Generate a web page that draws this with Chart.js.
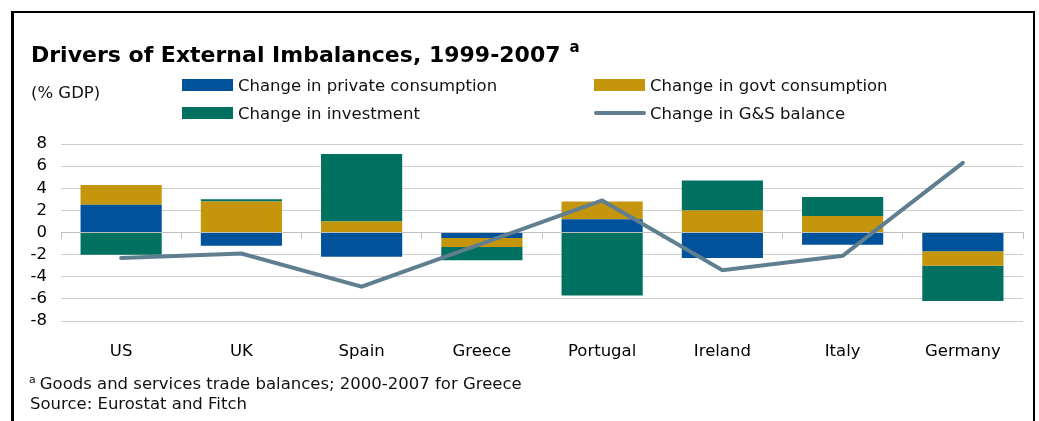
<!DOCTYPE html>
<html>
<head>
<meta charset="utf-8">
<title>Drivers of External Imbalances, 1999-2007</title>
<script src="https://cdn.jsdelivr.net/npm/chart.js@4/dist/chart.umd.min.js"></script>
<style>
  html, body { margin: 0; padding: 0; background: #fff; }
  body { width: 1039px; height: 421px; position: relative; overflow: hidden;
         font-family: "DejaVu Sans", sans-serif; color: #111; }
  #frame { position: absolute; left: 11px; top: 11px; width: 1024px; height: 460px;
           box-sizing: border-box; border-style: solid; border-color: #000;
           border-width: 2px 2px 0 3px; }
  #chart { position: absolute; left: 0; top: 0; }
  .txt { position: absolute; white-space: nowrap; font-size: 16.5px; line-height: 20px; }
  #title { left: 31px; top: 34px; font-size: 22px; line-height: 26px; font-weight: bold; color: #000; }
  #title .sup { font-size: 15px; vertical-align: 10px; margin-left: 9px; }
  #unit { left: 31px; top: 83px; }
  #note { left: 29px; top: 370px; }
  #note .sup { font-size: 11px; vertical-align: 6px; margin-right: 4px; }
  #source { left: 30px; top: 394px; }
  .swatch { position: absolute; }
</style>
</head>
<body>
<div id="frame"></div>
<canvas id="chart" width="1039" height="421"></canvas>
<div id="title" class="txt">Drivers of External Imbalances, 1999-2007<span class="sup">a</span></div>
<div id="unit" class="txt">(% GDP)</div>
<div id="legend"></div>
<div id="note" class="txt"><span class="sup">a</span>Goods and services trade balances; 2000-2007 for Greece</div>
<div id="source" class="txt">Source: Eurostat and Fitch</div>
<script>
// Countries along the x axis
const countries = ["US", "UK", "Spain", "Greece", "Portugal", "Ireland", "Italy", "Germany"];

// Changes in % of GDP, 1999-2007 (2000-2007 for Greece)
const privateConsumption = [2.5, -1.2, -2.2, -0.5, 1.2, -2.3, -1.1, -1.7];
const govtConsumption    = [1.8,  2.8,  1.0, -0.8, 1.6,  2.0,  1.5, -1.3];
const investment         = [-2.0, 0.2,  6.1, -1.2, -5.7, 2.7,  1.7, -3.2];
const gsBalance          = [-2.3, -1.9, -4.9, -1.0, 2.9, -3.4, -2.1, 6.3];

// Value axis
const yMin = -8, yMax = 8, yStep = 2;

const seriesNames = [
  "Change in private consumption",
  "Change in govt consumption",
  "Change in investment",
  "Change in G&S balance"
];

const colBlue = "#00529b";
const colGold = "#c5950c";
const colGreen = "#007060";
const colLine = "#5f7f90";
const gridCol = "#cdcdcd";
const textFont = { family: "DejaVu Sans", size: 16.5 };

const ctx = document.getElementById("chart").getContext("2d");

const chart = new Chart(ctx, {
  data: {
    labels: countries,
    datasets: [
      {
        type: "line", label: seriesNames[3], data: gsBalance, order: 0,
        borderColor: colLine, borderWidth: 4, pointRadius: 0, tension: 0,
        borderCapStyle: "round", borderJoinStyle: "miter", fill: false,
        xAxisID: "x", yAxisID: "y"
      },
      { type: "bar", label: seriesNames[0], data: privateConsumption, backgroundColor: colBlue, order: 1, xAxisID: "x", yAxisID: "y" },
      { type: "bar", label: seriesNames[1], data: govtConsumption, backgroundColor: colGold, order: 1, xAxisID: "x", yAxisID: "y" },
      { type: "bar", label: seriesNames[2], data: investment, backgroundColor: colGreen, order: 1, xAxisID: "x", yAxisID: "y" }
    ]
  },
  options: {
    responsive: false,
    animation: false,
    devicePixelRatio: 1,
    datasets: { bar: { categoryPercentage: 1, barPercentage: 0.675, borderWidth: 0 } },
    layout: { padding: { top: 144, right: 16, bottom: 60, left: 0 } },
    plugins: { legend: { display: false }, title: { display: false }, tooltip: { enabled: false } },
    scales: {
      y: {
        position: "left",
        min: yMin, max: yMax, stacked: true,
        ticks: { stepSize: yStep, padding: 14, color: "#000", font: textFont, autoSkip: false },
        grid: { color: gridCol, lineWidth: 1, drawTicks: false },
        border: { display: false },
        afterFit: (s) => { s.width = 61; }
      },
      // category axis running along the zero line, with small tick marks between countries
      x: {
        type: "category",
        position: { y: 0 },
        stacked: true,
        offset: true,
        ticks: { display: false },
        grid: { drawOnChartArea: false, drawTicks: true, tickLength: 6, color: "#bfbfbf", offset: true },
        border: { display: true, color: "#bfbfbf", width: 1 }
      },
      // country names under the plot
      xl: {
        type: "category",
        position: "bottom",
        offset: true,
        ticks: { color: "#000", font: textFont, padding: 21, maxRotation: 0, autoSkip: false },
        grid: { display: false, drawTicks: false },
        border: { display: false },
        afterFit: (s) => { s.height = 40; }
      }
    }
  }
});

// Two-column key built from the chart's datasets
const legendSpots = [
  { x: 182, y: 76 },   // private consumption
  { x: 594, y: 76 },   // govt consumption
  { x: 182, y: 104 },  // investment
  { x: 594, y: 104 }   // G&S balance
];
const legendOrder = [1, 2, 3, 0];
const legendEl = document.getElementById("legend");
legendOrder.forEach((dsIndex, i) => {
  const ds = chart.data.datasets[dsIndex];
  const spot = legendSpots[i];
  const sw = document.createElement("div");
  sw.className = "swatch";
  if (ds.type === "line") {
    Object.assign(sw.style, { left: spot.x + "px", top: (spot.y + 7) + "px", width: "52px", height: "4px",
      background: ds.borderColor, borderRadius: "2px" });
  } else {
    Object.assign(sw.style, { left: spot.x + "px", top: (spot.y + 3) + "px", width: "51px", height: "12px",
      background: ds.backgroundColor });
  }
  legendEl.appendChild(sw);
  const t = document.createElement("div");
  t.className = "txt";
  t.textContent = ds.label;
  Object.assign(t.style, { left: (spot.x + 56) + "px", top: spot.y + "px" });
  legendEl.appendChild(t);
});
</script>
</body>
</html>
